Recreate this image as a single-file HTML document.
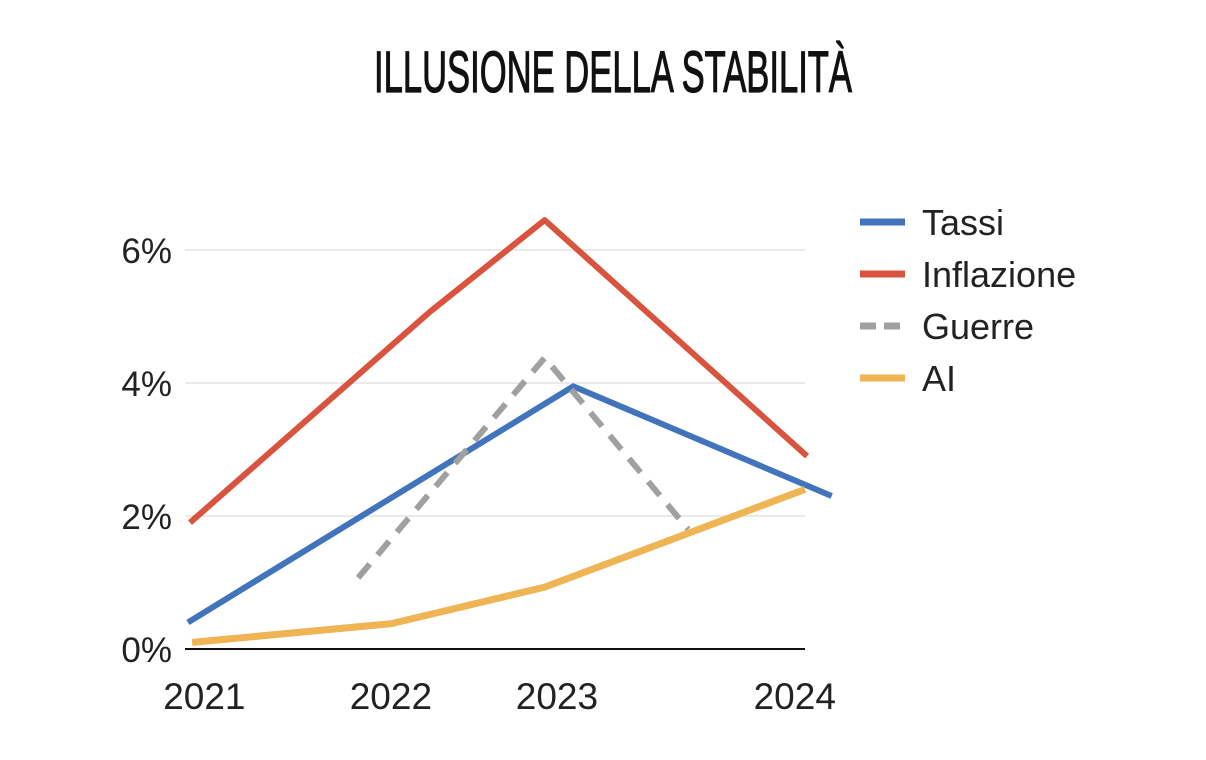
<!DOCTYPE html>
<html><head><meta charset="utf-8"><style>
html,body{margin:0;padding:0;background:#fff;width:1206px;height:760px;overflow:hidden}
svg{display:block}
</style></head><body>
<svg id="chart" width="1206" height="760" xmlns="http://www.w3.org/2000/svg">
<text x="613" y="92" text-anchor="middle" font-family="Liberation Sans Narrow, Liberation Sans, sans-serif" font-weight="normal" font-size="58" textLength="478" lengthAdjust="spacingAndGlyphs" fill="#111" stroke="#111" stroke-width="1.2">ILLUSIONE DELLA STABILITÀ</text>
<g id="grid"></g><g id="series"></g><g id="axes"></g><g id="legend"></g>
</svg>
<script>
const yTicks=[0,2,4,6];
const yTickLabels=["0%","2%","4%","6%"];
const xTicks=[2021.07,2021.98,2022.79,2023.95];
const xTickLabels=["2021","2022","2023","2024"];
const seriesNames=["Tassi","Inflazione","Guerre","AI"];
const tassiX=[2020.99,2022.87,2024.13];
const tassiY=[0.4,3.95,2.3];
const inflX=[2021,2022.17,2022.73,2024.01];
const inflY=[1.9,5.07,6.45,2.9];
const guerreX=[2021.82,2022.73,2023.43];
const guerreY=[1.07,4.38,1.8];
const aiX=[2021.01,2021.98,2022.73,2024];
const aiY=[0.1,0.38,0.93,2.4];

const NS="http://www.w3.org/2000/svg";
const xs=v=>190+(v-2021)*205;
const ys=v=>649-v*66.5;
function mk(tag,parent,attrs){const e=document.createElementNS(NS,tag);for(const k in attrs)e.setAttribute(k,attrs[k]);parent.appendChild(e);return e;}
const grid=document.getElementById('grid'),axes=document.getElementById('axes'),ser=document.getElementById('series'),leg=document.getElementById('legend');
yTicks.forEach((t,i)=>{
  if(t>0){const g=mk('line',grid,{x1:185,x2:805,y1:ys(t),y2:ys(t),stroke:'#e3e3e3','stroke-width':1.5});
  
  }
  const l=mk('text',axes,{x:172,y:ys(t)+13,'text-anchor':'end','font-family':'Liberation Sans, sans-serif','font-size':35,fill:'#222'});
  l.textContent=yTickLabels[i];
  
  
});
const ax=mk('line',axes,{x1:185,x2:805,y1:649,y2:649,stroke:'#111','stroke-width':2});


xTicks.forEach((t,i)=>{
  const l=mk('text',axes,{x:xs(t),y:709,'text-anchor':'middle','font-family':'Liberation Sans, sans-serif','font-size':37,fill:'#222'});
  l.textContent=xTickLabels[i];
  
  
});
const cols=['#4174bb','#d9533f','#a0a0a0','#efb554'];
const data=[[tassiX,tassiY],[inflX,inflY],[guerreX,guerreY],[aiX,aiY]];
data.forEach((d,i)=>{
  const pts=d[0].map((x,j)=>xs(x)+','+ys(d[1][j])).join(' ');
  const attrs={points:pts,fill:'none',stroke:cols[i],'stroke-width':i==3?7:6,'stroke-linejoin':'round'};
  if(i==2){attrs['stroke-dasharray']='18 12';}
  const p=mk('polyline',ser,attrs);
  
  
});
seriesNames.forEach((n,i)=>{
  const y=222+i*52;
  const attrs={x1:860,x2:905,y1:y,y2:y,stroke:cols[i],'stroke-width':7};
  if(i==2)attrs['stroke-dasharray']='16 8';
  const l=mk('line',leg,attrs);
  
  
  const t=mk('text',leg,{x:922,y:y+13,'font-family':'Liberation Sans, sans-serif','font-size':36,fill:'#222'});
  t.textContent=n;
  
  
});
</script>
</body></html>
